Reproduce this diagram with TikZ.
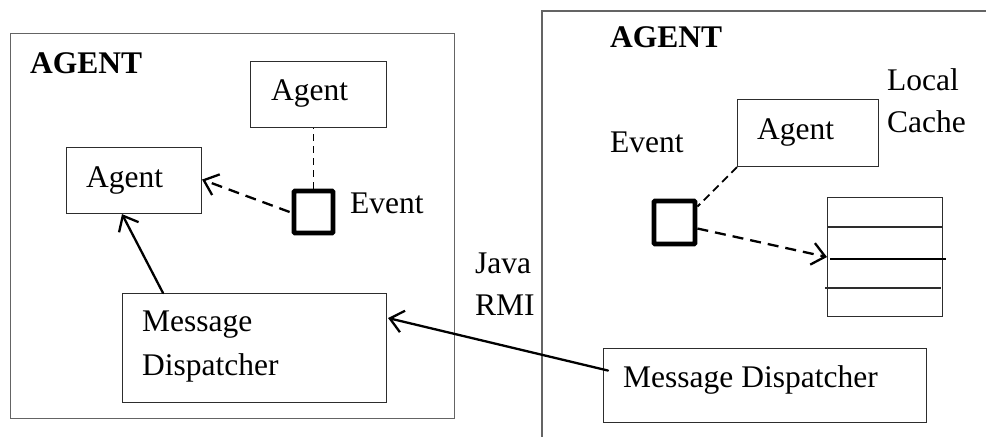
\documentclass[tikz,border=0pt]{standalone}
\usepackage{fontspec}
\setmainfont{Liberation Serif}
\usetikzlibrary{arrows.meta,calc}
\definecolor{frame}{RGB}{100,100,100}
\definecolor{boxline}{RGB}{45,45,45}
\begin{document}
\begin{tikzpicture}[x=1pt,y=-1pt,
  container/.style={draw=frame,line width=1.4pt},
  box/.style={draw=boxline,line width=1.1pt,inner sep=0pt,anchor=north west},
  lbl/.style={anchor=base west,inner sep=0pt,font=\fontsize{31.5}{40}\selectfont},
  title/.style={anchor=base west,inner sep=0pt,font=\fontsize{31.5}{40}\selectfont\bfseries},
  event/.style={draw=black,line width=4.8pt,inner sep=0pt,rounded corners=1pt},
  conn/.style={line width=2.3pt,line cap=round},
  dashconn/.style={line width=2.3pt,dash pattern=on 11pt off 7pt},
  tip/.style={-{Straight Barb[length=13pt,width=22pt,line width=2.3pt]}}
]
\useasboundingbox (0,0) rectangle (986,439);

% ---- left agent container ----
\node[box,draw=frame,line width=1.4pt,minimum width=444pt,minimum height=385pt] (leftFrame) at (10,33) {};
\node[title] (leftTitle) at (30,73) {AGENT};
\node[box,minimum width=136pt,minimum height=66pt] (agentTop) at (250,61) {};
\node[lbl] (agentTopText) at (271,100) {Agent};
\node[box,minimum width=135pt,minimum height=66pt] (agentL) at (66,147) {};
\node[lbl] (agentLText) at (86,187) {Agent};
\node[event,minimum width=39pt,minimum height=42pt] (evL) at (313.5,212) {};
\node[lbl] (evLText) at (350,213) {Event};
\node[box,minimum width=264pt,minimum height=109pt] (mdL) at (122,293) {};
\node[lbl] (mdLText1) at (142,331) {Message};
\node[lbl] (mdLText2) at (142,375) {Dispatcher};

% ---- connectors inside the left container ----
\draw[line width=1.8pt,dash pattern=on 7pt off 5pt] (evL.north) -- (evL.north |- agentTop.south);
\draw[dashconn,tip] ($(evL.west)+(-2,0)$) -- ($(agentL.east)+(0,-1)$);
\draw[conn,tip] ($(mdL.north west)+(41,0)$) -- ($(agentL.south west)+(56,0)$);

% ---- link between the two containers ----
\node[lbl] (javaText) at (475,273) {Java};
\node[lbl] (rmiText) at (475,315) {RMI};

% ---- right agent container (open on the right and bottom) ----
\coordinate (rfTop) at (542,11);
\coordinate (rfTopEnd) at (986,11);
\coordinate (rfBottom) at (542,437);
\draw[container] (rfTopEnd) -- (rfTop) -- (rfBottom);
\node[title] (rightTitle) at (610,47) {AGENT};
\node[lbl] (cacheText1) at (887,90) {Local};
\node[lbl] (cacheText2) at (887,132) {Cache};
\node[box,minimum width=141pt,minimum height=67pt] (agentR) at (737,99) {};
\node[lbl] (agentRText) at (757,139) {Agent};
\node[lbl] (evRText) at (610,152) {Event};
\node[event,minimum width=41pt,minimum height=43pt] (evR) at (674.5,222.5) {};

% local cache table
\node[box,minimum width=115pt,minimum height=119pt] (cache) at (827,197) {};
\draw[boxline,line width=1.5pt] ($(cache.north west)+(0,30)$) -- ($(cache.north east)+(0,30)$);
\draw[black,line width=2.3pt] ($(cache.north west)+(3,62)$) -- ($(cache.north east)+(3,62)$);
\draw[boxline,line width=1.9pt] ($(cache.north west)+(-2,91)$) -- ($(cache.north east)+(-2,91)$);

\node[box,minimum width=323pt,minimum height=74pt] (mdR) at (603,348) {};
\node[lbl] (mdRText) at (623,387) {Message Dispatcher};

% ---- connectors inside the right container ----
\draw[line width=1.8pt,dash pattern=on 8pt off 5pt] (agentR.south west) -- ($(evR.north east)+(0,8)$);
\draw[dashconn,tip] ($(evR.east)+(0,6)$) -- (cache.west);

% ---- Java RMI call ----
\draw[conn,tip] ($(mdR.west)+(5,-15)$) -- ($(mdL.east)+(1,-30)$);
\end{tikzpicture}
\end{document}
